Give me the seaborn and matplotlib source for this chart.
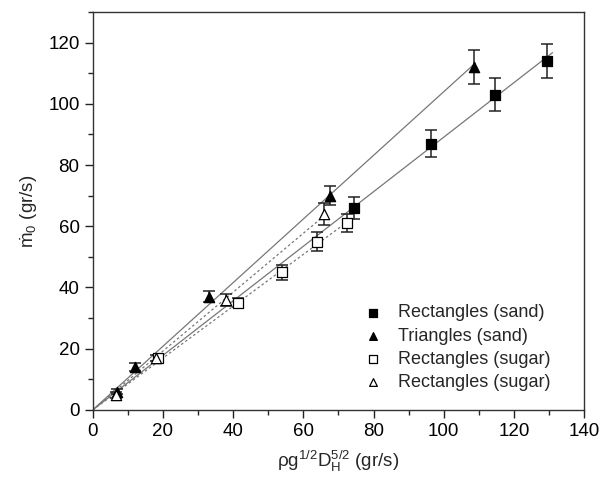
import numpy as np
import pandas as pd
import seaborn as sns
import matplotlib.pyplot as plt
from matplotlib.ticker import MultipleLocator

# Rectangles (sand)
rs_x = [74.5, 96.5, 114.5, 129.5]
rs_y = [66, 87, 103, 114]
rs_err = [3.5, 4.5, 5.3, 5.7]

# Triangles (sand)
ts_x = [7, 12, 33, 67.5, 108.5]
ts_y = [6, 14, 37, 70, 112]
ts_err = [0.8, 1.2, 1.8, 3.2, 5.5]

# Rectangles (sugar), open squares
rg_x = [18.5, 41.5, 54, 64, 72.5]
rg_y = [17, 35, 45, 55, 61]
rg_err = [1.0, 1.5, 2.5, 3.0, 3.0]

# Rectangles (sugar), open triangles
tg_x = [6.5, 18, 38, 66]
tg_y = [5, 17, 36, 64]
tg_err = [1.0, 1.0, 2.0, 3.5]

labels = ["Rectangles (sand)", "Triangles (sand)", "Rectangles (sugar)", "Rectangles (sugar) "]

sns.set_theme(style="ticks")
plt.rcParams['font.family'] = ['Liberation Sans', 'DejaVu Sans']
plt.rcParams['mathtext.fontset'] = 'custom'
plt.rcParams['mathtext.rm'] = 'Liberation Sans'
plt.rcParams['mathtext.it'] = 'Liberation Sans'

fig, ax = plt.subplots(figsize=(6.06, 4.8), dpi=100)
fig.subplots_adjust(left=0.153, right=0.964, bottom=0.146, top=0.975)

groups = [
    (rs_x, rs_y, rs_err, labels[0], "s", "black", "-", 131),
    (ts_x, ts_y, ts_err, labels[1], "^", "black", "-", 109),
    (rg_x, rg_y, rg_err, labels[2], "s", "white", (0, (2, 2)), 73),
    (tg_x, tg_y, tg_err, labels[3], "^", "white", (0, (2, 2)), 66),
]

for x, y, err, lab, mk, fc, ls, xend in groups:
    x = np.array(x)
    y = np.array(y)
    # least squares fit through the origin
    k = np.sum(x * y) / np.sum(x * x)
    fit = pd.DataFrame({"x": [0, xend], "y": [0, k * xend]})
    sns.lineplot(data=fit, x="x", y="y", ax=ax, color="#777777", lw=0.9,
                 linestyle=ls, legend=False)
    ax.errorbar(x, y, yerr=err, fmt="none", ecolor="#222222", elinewidth=1.1,
                capsize=4, capthick=1.1, zorder=3)
    df = pd.DataFrame({"x": x, "y": y})
    sns.scatterplot(data=df, x="x", y="y", ax=ax, marker=mk, s=55,
                    facecolor=fc, edgecolor="black", linewidth=0.9,
                    label=lab, zorder=4)

ax.set_xlim(0, 140)
ax.set_ylim(0, 130)
ax.xaxis.set_major_locator(MultipleLocator(20))
ax.xaxis.set_minor_locator(MultipleLocator(10))
ax.yaxis.set_major_locator(MultipleLocator(20))
ax.yaxis.set_minor_locator(MultipleLocator(10))
ax.tick_params(which="major", direction="out", length=6, width=1, labelsize=13.5,
               colors="#222222", labelcolor="black")
ax.tick_params(which="minor", direction="out", length=3.5, width=1)
for sp in ax.spines.values():
    sp.set_color("#333333")
    sp.set_linewidth(1)

ax.set_xlabel(r"ρg$^{1/2}$D$_\mathrm{H}^{5/2}$ (gr/s)", fontsize=13.5, labelpad=6)
ax.set_ylabel(r"$\dot{\mathrm{m}}_0$ (gr/s)", fontsize=13.5, labelpad=6)

leg = ax.legend(loc="upper left", frameon=False, fontsize=13, handlelength=1.0,
                handletextpad=0.9, borderpad=0, borderaxespad=0,
                labelspacing=0.34, markerscale=0.75,
                bbox_to_anchor=(0.552, 0.265))

fig.savefig("out.png", dpi=100)
